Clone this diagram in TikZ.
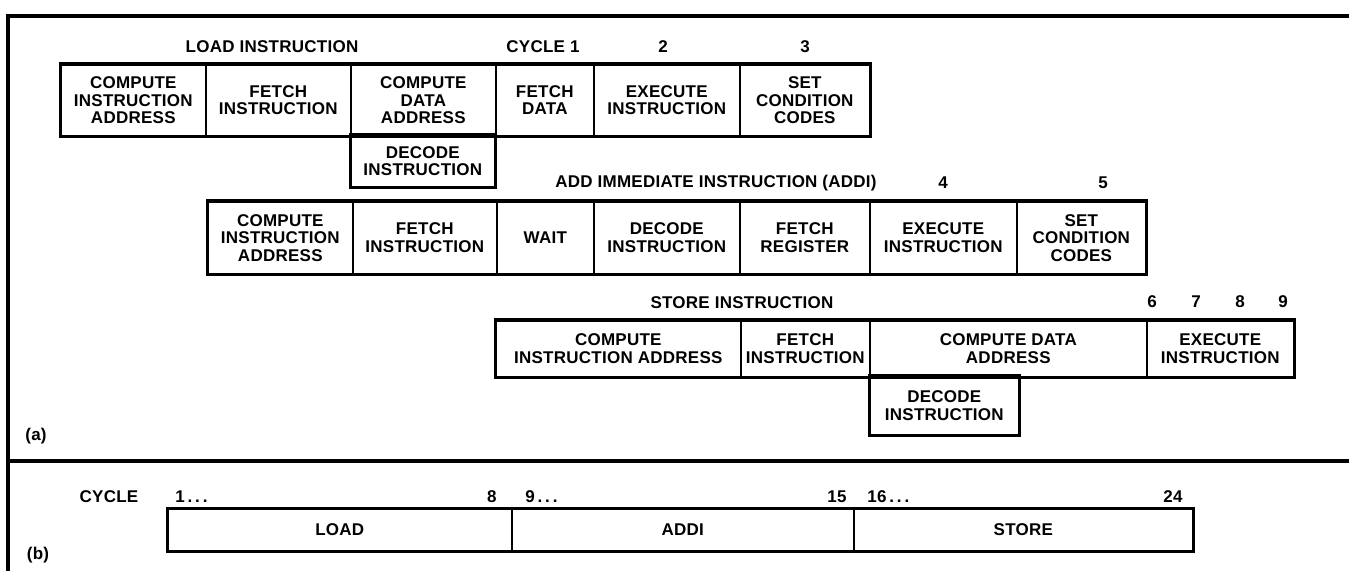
\documentclass[tikz,border=0pt]{standalone}
\usepackage{fontspec}
\setmainfont{Liberation Sans}[LetterSpace=1.5]
\newcommand\mycell[6]{\node[cell, minimum width={(#4-#2)*0.5pt}, minimum height={(#5-#3)*0.5pt}] (#1) at (#2,#3) {#6};}
\begin{document}
\begin{tikzpicture}[x=0.5pt,y=-0.5pt,
  cell/.style={draw, line width=0.8pt, anchor=north west, inner sep=0pt, align=center,
    font=\bfseries\fontsize{8.5}{8.75}\selectfont},
  lbl/.style={font=\bfseries\fontsize{8.5}{9}\selectfont, inner sep=0pt},
  outer/.style={line width=1.5pt},
  frame/.style={line width=2pt}]
\useasboundingbox (0,0) rectangle (1349,571);
% frame
\coordinate (ftl) at (8,16);
\coordinate (ftr) at (1349,16);
\coordinate (fbl) at (8,571);
\coordinate (dl) at (8,461);
\coordinate (dr) at (1349,461);
\draw[frame] (ftr) -- (ftl) -- (fbl);
\draw[frame] (dl) -- (dr);
% ---------- LOAD ----------
\node[lbl] (tload) at (272,47) {LOAD INSTRUCTION};
\node[lbl] (c1) at (543,47) {CYCLE 1};
\node[lbl] (c2) at (663,47) {2};
\node[lbl] (c3) at (805,47) {3};
\mycell{la}{60}{64}{205}{135}{COMPUTE\\INSTRUCTION\\ADDRESS}
\mycell{lb}{205}{64}{350}{135}{FETCH\\INSTRUCTION}
\mycell{lc}{350}{64}{495}{135}{COMPUTE\\DATA\\ADDRESS}
\mycell{ld}{495}{64}{593}{135}{FETCH\\DATA}
\mycell{le}{593}{64}{739}{135}{EXECUTE\\INSTRUCTION}
\mycell{lf}{739}{64}{869}{135}{SET\\CONDITION\\CODES}
\mycell{lg}{350}{135}{494}{186}{DECODE\\INSTRUCTION}
\draw[outer] (la.north west) rectangle (lf.south east);
\draw[outer] (lg.north west) rectangle (lg.south east);
% ---------- ADDI ----------
\node[lbl] (taddi) at (716,183) {ADD IMMEDIATE INSTRUCTION (ADDI)};
\node[lbl] (c4) at (943,183) {4};
\node[lbl] (c5) at (1103,183) {5};
\mycell{aa}{207}{201}{352}{273}{COMPUTE\\INSTRUCTION\\ADDRESS}
\mycell{ab}{352}{201}{496}{273}{FETCH\\INSTRUCTION}
\mycell{ac}{496}{201}{593}{273}{WAIT}
\mycell{ad}{593}{201}{739}{273}{DECODE\\INSTRUCTION}
\mycell{ae}{739}{201}{869}{273}{FETCH\\REGISTER}
\mycell{af}{869}{201}{1016}{273}{EXECUTE\\INSTRUCTION}
\mycell{ag}{1016}{201}{1145}{273}{SET\\CONDITION\\CODES}
\draw[outer] (aa.north west) rectangle (ag.south east);
% ---------- STORE ----------
\node[lbl] (tstore) at (742,303) {STORE INSTRUCTION};
\node[lbl] (c6) at (1152,302) {6};
\node[lbl] (c7) at (1196,302) {7};
\node[lbl] (c8) at (1240,302) {8};
\node[lbl] (c9) at (1283,302) {9};
\mycell{sa}{495}{320}{740}{376}{COMPUTE\\INSTRUCTION ADDRESS}
\mycell{sb}{740}{320}{869}{376}{FETCH\\INSTRUCTION}
\mycell{sc}{869}{320}{1146}{376}{COMPUTE DATA\\ADDRESS}
\mycell{sd}{1146}{320}{1293}{376}{EXECUTE\\INSTRUCTION}
\mycell{se}{869}{376}{1018}{434}{DECODE\\INSTRUCTION}
\draw[outer] (sa.north west) rectangle (sd.south east);
\draw[outer] (se.north west) rectangle (se.south east);
\node[lbl] (pa) at (36,436) {(a)};
% ---------- part (b) ----------
\node[lbl] (cyc) at (109,497) {CYCLE};
\node[lbl, anchor=west] (b1) at (175,497) {1\,.\,.\,.};
\node[lbl, anchor=east] (b8) at (497,497) {8};
\node[lbl, anchor=west] (b9) at (525,497) {9\,.\,.\,.};
\node[lbl, anchor=east] (b15) at (847,497) {15};
\node[lbl, anchor=west] (b16) at (867,497) {16\,.\,.\,.};
\node[lbl, anchor=east] (b24) at (1183,497) {24};
\mycell{ba}{167}{508}{511}{550}{LOAD}
\mycell{bb}{511}{508}{853}{550}{ADDI}
\mycell{bc}{853}{508}{1192}{550}{STORE}
\draw[line width=1.2pt] (ba.north west) rectangle (bc.south east);
\node[lbl] (pb) at (38,555) {(b)};
\end{tikzpicture}
\end{document}
